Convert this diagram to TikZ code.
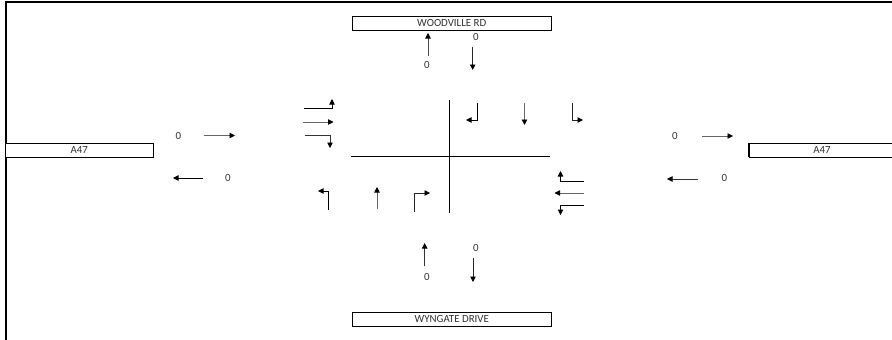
\documentclass[tikz,border=0pt]{standalone}
\usepackage{fontspec}
\setmainfont{Carlito}
\usetikzlibrary{arrows.meta}
\tikzset{
  x=1pt,y=-1pt,
  flow/.style={draw=black,line width=0.85pt,-{Triangle[length=5.5pt,width=5.5pt,color=black]}},
  thru/.style={flow,draw=black!60},
  road/.style={draw=black,line width=1pt,fill=white,inner sep=0pt,minimum height=14pt,font=\fontsize{10.9}{12}\selectfont,text=black!80},
  count/.style={inner sep=0pt,font=\fontsize{10.9}{12}\selectfont,text=black!80},
  stopline/.style={draw=black,line width=1pt},
  frameline/.style={draw=black,line width=2pt},
  pt/.style={coordinate}
}
\begin{document}
\begin{tikzpicture}
\useasboundingbox (0,0) rectangle (892,340);
% frame
\coordinate (f1) at (5.7,340);
\coordinate (f2) at (5.7,2);
\coordinate (f3) at (892,2);
\draw[frameline] (f1) -- (f2) -- (f3);
% road name boxes
\node[road,minimum width=198.5pt] (north) at (451.75,23) {WOODVILLE RD};
\node[road,minimum width=198.5pt] (south) at (451.75,319) {WYNGATE DRIVE};
\node[road,minimum width=148.5pt] (west) at (79.25,150.25) {A47};
\node[road,minimum width=146pt] (east) at (822,150.25) {A47};
\coordinate (ea) at (749,143);
\coordinate (eb) at (749,157.3);
\draw[frameline,line width=1.4pt] (ea) -- (eb);
% junction lines
\coordinate (h1) at (351,156.5);
\coordinate (h2) at (550,156.5);
\coordinate (v1) at (449.5,100);
\coordinate (v2) at (449.5,213);
\draw[stopline] (h1) -- (h2);
\draw[stopline] (v1) -- (v2);
% west approach turns
\coordinate (wa1) at (304,108.5); \coordinate (wa2) at (332,99);
\coordinate (wb1) at (302.5,122); \coordinate (wb2) at (333.5,122);
\coordinate (wc1) at (304.5,135); \coordinate (wc2) at (330,148);
\draw[flow] (wa1) -| (wa2);
\draw[thru] (wb1) -- (wb2);
\draw[flow,draw=black!80] (wc1) -| (wc2);
% south approach turns
\coordinate (sa1) at (328.5,210); \coordinate (sa2) at (318,191);
\coordinate (sb1) at (377,209); \coordinate (sb2) at (377,187);
\coordinate (sc1) at (414.5,212); \coordinate (sc2) at (430,193);
\draw[flow] (sa1) |- (sa2);
\draw[thru] (sb1) -- (sb2);
\draw[flow,draw=black!85] (sc1) |- (sc2);
% north approach turns
\coordinate (na1) at (477.5,103); \coordinate (na2) at (466,120);
\coordinate (nb1) at (524.5,103); \coordinate (nb2) at (524.5,125);
\coordinate (nc1) at (572.5,103); \coordinate (nc2) at (583,120);
\draw[flow] (na1) |- (na2);
\draw[thru] (nb1) -- (nb2);
\draw[flow,draw=black!85] (nc1) |- (nc2);
% east approach turns
\coordinate (ec1) at (584,181); \coordinate (ec2) at (560.5,171);
\coordinate (ed1) at (584,193); \coordinate (ed2) at (554.5,193);
\coordinate (ee1) at (584,205.5); \coordinate (ee2) at (560.5,215);
\draw[flow] (ec1) -| (ec2);
\draw[thru] (ed1) -- (ed2);
\draw[flow] (ee1) -| (ee2);
% arm flows: north
\coordinate (n1) at (428,56); \coordinate (n2) at (428,33);
\coordinate (n3) at (472.7,47); \coordinate (n4) at (472.7,70);
\draw[flow,draw=black!70] (n1) -- (n2);
\draw[flow,draw=black!85] (n3) -- (n4);
\node[count] (nc) at (476,37) {0};
\node[count] (nd) at (427,65) {0};
% arm flows: south
\coordinate (s1) at (424.7,266); \coordinate (s2) at (424.7,243);
\coordinate (s3) at (473,258); \coordinate (s4) at (473,282);
\draw[flow,draw=black!80] (s1) -- (s2);
\draw[flow,draw=black!85] (s3) -- (s4);
\node[count] (sn1) at (427,277) {0};
\node[count] (sn2) at (476,248) {0};
% arm flows: west
\coordinate (w1) at (203.5,135.5); \coordinate (w2) at (235,135.5);
\coordinate (w3) at (203,178); \coordinate (w4) at (173,178);
\draw[thru] (w1) -- (w2);
\draw[flow] (w3) -- (w4);
\node[count] (wn1) at (178.5,136) {0};
\node[count] (wn2) at (228,178) {0};
% arm flows: east
\coordinate (e1) at (702,136); \coordinate (e2) at (733,136);
\coordinate (e3) at (698,179); \coordinate (e4) at (667,179);
\draw[thru] (e1) -- (e2);
\draw[flow,draw=black!80] (e3) -- (e4);
\node[count] (en1) at (675,136) {0};
\node[count] (en2) at (724.5,178) {0};
\end{tikzpicture}
\end{document}
